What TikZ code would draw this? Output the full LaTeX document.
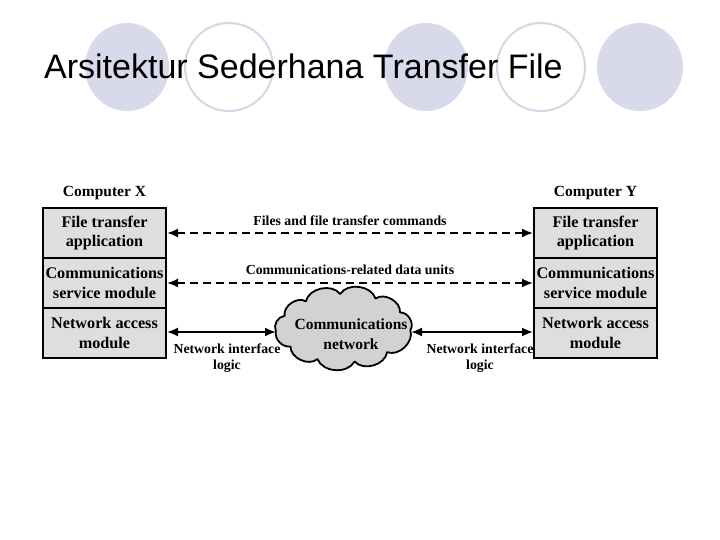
\documentclass[tikz,border=0pt]{standalone}
\usepackage{fontspec}
\setmainfont{Liberation Serif}
\newfontfamily\titlefont{Liberation Sans}
\usetikzlibrary{arrows.meta}
\definecolor{lav}{RGB}{217,217,236}
\definecolor{lavline}{RGB}{214,214,230}
\definecolor{boxgray}{RGB}{222,222,222}
\definecolor{cloudgray}{RGB}{210,210,210}
\tikzset{
  layerbox/.style={draw=black, line width=2pt, fill=boxgray, minimum width=123pt, minimum height=50pt,
    inner sep=0pt, align=center, font=\fontsize{16.2}{19.5}\selectfont\bfseries},
  biarrow/.style={line width=1.8pt, {Latex[length=11pt,width=9pt]}-{Latex[length=11pt,width=9pt]}},
  dasharrow/.style={biarrow, dash pattern=on 8pt off 5pt},
  lbl/.style={font=\fontsize{13.8}{16}\selectfont\bfseries, inner sep=0pt, align=center},
  fillell/.style={fill=lav, draw=none},
  ringell/.style={draw=lavline, line width=2pt, fill=white},
  cloudline/.style={draw=black, line width=1.8pt, fill=cloudgray, line join=round}
}
\begin{document}
\begin{tikzpicture}[x=1pt,y=-1pt]
\path[use as bounding box, fill=white] (0,0) rectangle (720,540);
% decorative ellipses
\fill[fillell] (127,67) ellipse [x radius=42, y radius=44];
\draw[ringell] (229,67) ellipse [x radius=44, y radius=44];
\fill[fillell] (426,67) ellipse [x radius=42, y radius=44];
\draw[ringell] (541,67) ellipse [x radius=44, y radius=44];
\fill[fillell] (640,67) ellipse [x radius=43, y radius=44];
% title
\node[anchor=base west, inner sep=0pt, font=\titlefont\fontsize{34}{40}\selectfont] (title) at (44,79) {Arsitektur Sederhana Transfer File};
% computer X
\node[layerbox] (xa) at (104.5,233) {File transfer\\application};
\node[layerbox] (xc) at (104.5,283) {Communications\\service module};
\node[layerbox] (xn) at (104.5,333) {Network access\\module};
\node[lbl, font=\fontsize{15.5}{18}\selectfont\bfseries] (cx) at (104.5,193) {Computer X};
% computer Y
\node[layerbox] (ya) at (595.5,233) {File transfer\\application};
\node[layerbox] (yc) at (595.5,283) {Communications\\service module};
\node[layerbox] (yn) at (595.5,333) {Network access\\module};
\node[lbl, font=\fontsize{15.5}{18}\selectfont\bfseries] (cy) at (595.5,193) {Computer Y};
% cloud
\begin{scope}[shift={(343.5,328)}]
\path[cloudline]
  (-4:67pt and 31pt)
  to[bend right=65] (28:64pt and 33pt)
  to[bend right=65] (60:64pt and 34pt)
  to[bend right=65] (93:64pt and 34pt)
  to[bend right=65] (126:64pt and 33pt)
  to[bend right=65] (157:64pt and 31pt)
  to[bend right=55] (186:68pt and 30pt)
  to[bend right=55] (214:64pt and 33pt)
  to[bend right=65] (246:64pt and 34pt)
  to[bend right=65] (280:64pt and 34pt)
  to[bend right=65] (313:64pt and 33pt)
  to[bend right=65] cycle;
\end{scope}
\node[inner sep=0pt, align=center, font=\fontsize{15.5}{19.5}\selectfont\bfseries] (net) at (351,334) {Communications\\network};
\coordinate (netw) at (276,332);
\coordinate (nete) at (411,332);
% connectors
\draw[dasharrow] (xa.east) -- (ya.west);
\draw[dasharrow] (xc.east) -- (yc.west);
\draw[biarrow] (xn.east |- netw) -- (netw);
\draw[biarrow] (nete) -- (yn.west |- nete);
% labels
\node[lbl] (l1) at (350,221) {Files and file transfer commands};
\node[lbl] (l2) at (350,270) {Communications-related data units};
\node[lbl] (l3) at (227,358) {Network interface\\logic};
\node[lbl] (l4) at (480,358) {Network interface\\logic};
\end{tikzpicture}
\end{document}
